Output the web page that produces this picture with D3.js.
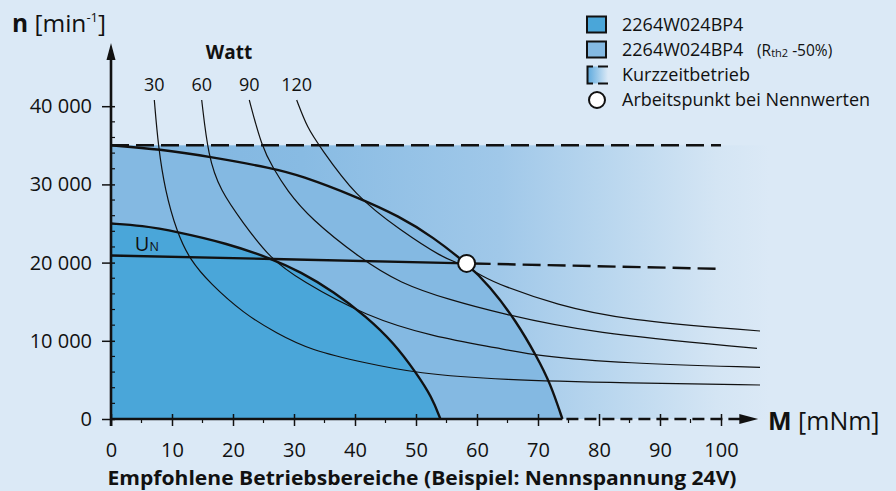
<!DOCTYPE html>
<html><head><meta charset="utf-8">
<script src="https://cdn.jsdelivr.net/npm/d3@7"></script>
<style>
html,body{margin:0;padding:0;background:#dbe9f6;}
svg{display:block;}
text{font-family:"Open Sans",sans-serif;fill:#111;}
</style></head><body>
<svg id="chart" width="896" height="491"></svg>
<script>
// ---------- data ----------
const xTicks = [0,10,20,30,40,50,60,70,80,90,100];
const yTicks = [0,10000,20000,30000,40000];
const powerLabels = ["30","60","90","120"];
const legendLabels = ["2264W024BP4","2264W024BP4","Kurzzeitbetrieb","Arbeitspunkt bei Nennwerten"];

// outer boundary (Rth2 -50%), M [mNm], n [min-1]
const outerCurve = [[0,35000],[8,34500],[16.2,33540],[26.6,32050],[31,31150],[40,28500],[47.4,25870],[52.8,23250],[58.3,19900],[62,17100],[66.5,12440],[69.8,7970],[72,4600],[74,0]];
// inner boundary (2264W024BP4)
const innerCurve = [[0,25000],[5,24750],[10.8,23950],[19,22470],[26.5,20450],[31,18840],[36.5,16300],[41.9,13080],[46.3,9800],[50.1,5840],[52.6,2800],[54,0]];
// speed / torque line at nominal voltage
const speedSolid = [[0,20900],[26.6,20460],[58.3,19900]];
const speedDashed = [[58.3,19900],[100,19200]];
const operatingPoint = [58.3,19900];
// short-time operation area
const kurzLimitN = 35000;
const kurzLimitM = 100;
const kurzFadeM = 108;
// power curves
const power30 = [[7.1,40790],[7.75,34820],[8.85,29280],[10.77,23950],[12.95,20330],[16.23,17350],[21.69,13520],[27.16,10960],[32.62,8820],[41.92,7120],[50.11,5840],[63.77,4990],[85,4600],[106.4,4350]];
const power60 = [[14.87,40790],[15.95,33540],[17.87,29280],[21.69,25030],[26.07,20550],[30.98,17770],[41.92,13080],[52.84,10520],[63.77,9040],[69.79,8060],[83.98,7120],[106.4,6610]];
const power90 = [[22.67,40790],[24.7,34820],[26.6,32060],[28.8,29280],[32.62,25660],[40.82,20550],[47.38,17350],[55.57,15220],[63.77,13520],[78.52,10960],[105.9,9040]];
const power120 = [[30.44,40790],[32.2,37200],[34.26,34820],[40.0,28520],[47.38,24170],[54.48,20550],[57.2,19950],[61,18200],[63.77,17140],[73.07,14580],[84.0,12660],[106.4,11250]];
const powerCurves = [power30,power60,power90,power120];

// ---------- setup ----------
const svg = d3.select("#chart");
const W = 896, H = 491;
const colBg = "#dbe9f6", colInner = "#4aa6d9", colOuter = "#84b9e2", ink = "#111";
svg.append("rect").attr("width",W).attr("height",H).attr("fill",colBg);

const x = d3.scaleLinear().domain([0,100]).range([111,721]);
const y = d3.scaleLinear().domain([0,40000]).range([419,106.2]);

const defs = svg.append("defs");
const grad = defs.append("linearGradient").attr("id","kurz")
  .attr("gradientUnits","userSpaceOnUse")
  .attr("x1",x(0)).attr("x2",x(kurzFadeM)).attr("y1",0).attr("y2",0);
[[0,"#7fb5e0"],[0.29,"#88bbe3"],[0.59,"#a0c8e9"],[0.77,"#bcd8ef"],[0.92,"#d4e5f4"],[1,colBg]]
  .forEach(([o,c])=>grad.append("stop").attr("offset",o).attr("stop-color",c));
const lgrad = defs.append("linearGradient").attr("id","kurzLeg")
  .attr("x1",0).attr("x2",1).attr("y1",0).attr("y2",0);
[[0,"#5aa8dd"],[1,colBg]].forEach(([o,c])=>lgrad.append("stop").attr("offset",o).attr("stop-color",c));

const curve = d3.curveBasis;
const line = d3.line().x(d=>x(d[0])).y(d=>y(d[1])).curve(curve);
const area = d3.area().x(d=>x(d[0])).y0(y(0)).y1(d=>y(d[1])).curve(curve);

// short-time area
svg.append("rect").attr("x",x(0)).attr("y",y(kurzLimitN))
  .attr("width",x(kurzFadeM)-x(0)).attr("height",y(0)-y(kurzLimitN))
  .attr("fill","url(#kurz)");
// regions
svg.append("path").attr("d",area(outerCurve)).attr("fill",colOuter);
svg.append("path").attr("d",area(innerCurve)).attr("fill",colInner);

// power curves
svg.append("g").selectAll("path").data(powerCurves).join("path")
  .attr("d",line).attr("fill","none").attr("stroke",ink).attr("stroke-width",1.2);

// thick curves
[outerCurve,innerCurve].forEach(c=>svg.append("path").attr("d",line(c))
  .attr("fill","none").attr("stroke",ink).attr("stroke-width",2.4));
const straight = d3.line().x(d=>x(d[0])).y(d=>y(d[1]));
svg.append("path").attr("d",straight(speedSolid)).attr("fill","none").attr("stroke",ink).attr("stroke-width",2.4);
svg.append("path").attr("d",straight(speedDashed)).attr("fill","none").attr("stroke",ink).attr("stroke-width",2.4)
  .attr("stroke-dasharray","18 7").attr("stroke-dashoffset",-6);
svg.append("path").attr("d",straight([[0,kurzLimitN],[kurzLimitM,kurzLimitN]])).attr("fill","none").attr("stroke",ink).attr("stroke-width",2.4)
  .attr("stroke-dasharray","18 7");

// ---------- axes ----------
const fmt = d3.formatLocale({decimal:",",thousands:"\u00a0",grouping:[3],currency:["","€"]}).format(",");
// x axis
const gx = svg.append("g").attr("transform",`translate(0,${y(0)})`)
  .call(d3.axisBottom(x).tickValues(xTicks).tickSize(0).tickFormat(d3.format("d")));
gx.select(".domain").remove();
gx.attr("font-family","Open Sans, sans-serif").attr("font-size",20);
gx.selectAll(".tick line").attr("y1",-5).attr("y2",7).attr("stroke",ink).attr("stroke-width",1.5);
gx.selectAll(".tick text").attr("dy",null).attr("y",38).attr("fill",ink);
svg.append("g").selectAll("line").data(x.ticks(20).filter(d=>d%10!==0)).join("line")
  .attr("x1",d=>x(d)).attr("x2",d=>x(d)).attr("y1",y(0)).attr("y2",y(0)+4)
  .attr("stroke",ink).attr("stroke-width",1.2);
svg.append("line").attr("x1",x(0)).attr("x2",x(74)).attr("y1",y(0)).attr("y2",y(0))
  .attr("stroke",ink).attr("stroke-width",2.6);
svg.append("line").attr("x1",x(74)).attr("x2",x(103.5)).attr("y1",y(0)).attr("y2",y(0))
  .attr("stroke",ink).attr("stroke-width",2.6).attr("stroke-dasharray","12 6").attr("stroke-dashoffset",-4);
svg.append("path").attr("d",`M${x(103)},${y(0)-5}L${x(106.1)},${y(0)}L${x(103)},${y(0)+5}Z`).attr("fill",ink);

// y axis
const gy = svg.append("g").attr("transform",`translate(${x(0)},0)`)
  .call(d3.axisLeft(y).tickValues(yTicks).tickSize(0).tickFormat(fmt));
gy.select(".domain").remove();
gy.attr("font-family","Open Sans, sans-serif").attr("font-size",20);
gy.selectAll(".tick line").attr("x1",-9).attr("x2",4).attr("stroke",ink).attr("stroke-width",1.5);
gy.selectAll(".tick text").attr("x",-19).attr("fill",ink);
svg.append("g").selectAll("line").data(y.ticks(20).filter(d=>d%10000!==0)).join("line")
  .attr("x1",x(0)).attr("x2",x(0)+4).attr("y1",d=>y(d)).attr("y2",d=>y(d))
  .attr("stroke",ink).attr("stroke-width",1.2);
svg.append("line").attr("x1",x(0)).attr("x2",x(0)).attr("y1",y(0)+7).attr("y2",y(45900))
  .attr("stroke",ink).attr("stroke-width",2.6);
svg.append("path").attr("d",`M${x(0)-4.5},${y(45900)}L${x(0)},${y(48080)}L${x(0)+4.5},${y(45900)}Z`).attr("fill",ink);

// operating point
svg.append("circle").attr("cx",x(operatingPoint[0])).attr("cy",y(operatingPoint[1])).attr("r",8.5)
  .attr("fill","#fff").attr("stroke",ink).attr("stroke-width",2);

// ---------- labels ----------
const ny = svg.append("text").attr("x",12).attr("y",31.5).attr("font-size",24.5);
ny.append("tspan").attr("font-weight","bold").text("n");
ny.append("tspan").text(" [min");
ny.append("tspan").attr("font-size",13).attr("dy",-10).text("-1");
ny.append("tspan").attr("dy",10).text("]");

const mx = svg.append("text").attr("x",768).attr("y",430).attr("font-size",25);
mx.append("tspan").attr("font-weight","bold").text("M");
mx.append("tspan").text(" [mNm]");

svg.append("text").attr("x",229).attr("y",59).attr("text-anchor","middle")
  .attr("font-size",19).attr("font-weight","bold").text("Watt");
svg.append("g").selectAll("text").data(powerCurves).join("text")
  .attr("x",d=>x(d[0][0])).attr("y",91).attr("text-anchor","middle").attr("font-size",18)
  .text((d,i)=>powerLabels[i]);

const un = svg.append("text").attr("x",x(3.9)).attr("y",y(21500)).attr("font-size",20);
un.append("tspan").text("U");
un.append("tspan").attr("font-size",12.5).text("N");

svg.append("text").attr("x",422).attr("y",485).attr("text-anchor","middle")
  .attr("font-size",19).attr("font-weight","bold")
  .attr("textLength",629).attr("lengthAdjust","spacingAndGlyphs")
  .text("Empfohlene Betriebsbereiche (Beispiel: Nennspannung 24V)");

// ---------- legend ----------
const lg = svg.append("g");
const rowY = [25,50,75,100];
lg.append("rect").attr("x",587).attr("y",rowY[0]-8.5).attr("width",19).attr("height",16)
  .attr("fill",colInner).attr("stroke",ink).attr("stroke-width",2);
lg.append("rect").attr("x",587).attr("y",rowY[1]-8.5).attr("width",19).attr("height",16)
  .attr("fill",colOuter).attr("stroke",ink).attr("stroke-width",2);
lg.append("rect").attr("x",587).attr("y",rowY[2]-8.5).attr("width",21).attr("height",17)
  .attr("fill","url(#kurzLeg)");
lg.append("path").attr("d",`M593,${rowY[2]-8.5}H587.5V${rowY[2]+8.5}H593 M598,${rowY[2]-8.5}H608 M598,${rowY[2]+8.5}H608`)
  .attr("fill","none").attr("stroke",ink).attr("stroke-width",2);
lg.append("circle").attr("cx",597).attr("cy",rowY[3]).attr("r",8)
  .attr("fill","#fff").attr("stroke",ink).attr("stroke-width",2);
lg.selectAll("text.leg").data(legendLabels).join("text").attr("class","leg")
  .attr("x",622).attr("y",(d,i)=>rowY[i]+6.3).attr("font-size",18).text(d=>d);
const rth = lg.append("text").attr("x",757).attr("y",rowY[1]+6.3).attr("font-size",15.5);
rth.append("tspan").text("(R");
rth.append("tspan").attr("font-size",11).attr("dy",1).text("th2");
rth.append("tspan").attr("dy",-1).text(" -50%)");
</script>
</body></html>
